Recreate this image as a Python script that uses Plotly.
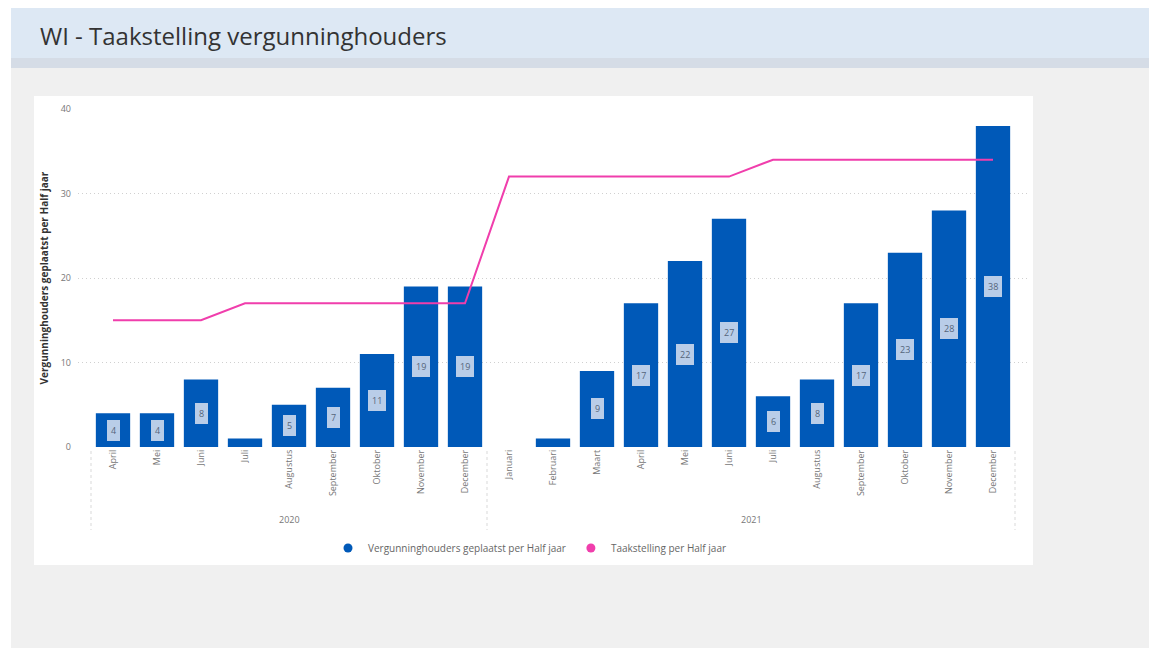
import plotly.graph_objects as go

# ---- data ----
years = ["2020"] * 9 + ["2021"] * 12
months = ["April", "Mei", "Juni", "Juli", "Augustus", "September", "Oktober", "November", "December",
          "Januari", "Februari", "Maart", "April", "Mei", "Juni", "Juli", "Augustus", "September",
          "Oktober", "November", "December"]
geplaatst = [4, 4, 8, 1, 5, 7, 11, 19, 19,
             None, 1, 9, 17, 22, 27, 6, 8, 17, 23, 28, 38]
taakstelling = [15, 15, 15, 17, 17, 17, 17, 17, 17,
                32, 32, 32, 32, 32, 32, 34, 34, 34, 34, 34, 34]
y_ticks = [0, 10, 20, 30, 40]

title_text = "WI - Taakstelling vergunninghouders"
bar_name = "Vergunninghouders geplaatst per Half jaar"
line_name = "Taakstelling per Half jaar"
y_title = "Vergunninghouders geplaatst per Half jaar"

BLUE = "#0059b8"
PINK = "#f03eac"
FONT = "Open Sans, Segoe UI, sans-serif"

keys = [f"{m} {y}" for m, y in zip(months, years)]

# ---- layout geometry (page pixels; page body has an 8px margin) ----
OFF = 8
W, H = 1157 - OFF, 652 - OFF
PL, PR, PT, PB = 78, 1028, 109, 447  # plot area in page pixels


def px(x):
    return (x - PL) / (PR - PL)


def py(y):
    return (PB - y) / (PB - PT)


fig = go.Figure()

fig.add_trace(go.Bar(
    x=keys, y=geplaatst, name=bar_name, marker_color=BLUE,
    marker_line_width=0, showlegend=False,
))
fig.add_trace(go.Scatter(
    x=keys, y=taakstelling, name=line_name, mode="lines",
    line=dict(color=PINK, width=2), showlegend=False,
))
# legend entries with circle markers
fig.add_trace(go.Scatter(x=[None], y=[None], mode="markers", name=bar_name,
                         marker=dict(color=BLUE, size=9, symbol="circle")))
fig.add_trace(go.Scatter(x=[None], y=[None], mode="markers", name=line_name,
                         marker=dict(color=PINK, size=9, symbol="circle")))

annotations = []
# data labels
for k, v in zip(keys, geplaatst):
    if v is not None and v >= 3:
        annotations.append(dict(
            x=k, y=v / 2, xref="x", yref="y", text=str(v), showarrow=False,
            font=dict(family=FONT, size=9, color="#55657a"),
            bgcolor="#b9cde8", borderpad=3, bordercolor="#b9cde8", borderwidth=1,
        ))

# year group labels and dividers
groups = []
for i, y in enumerate(years):
    if not groups or groups[-1][0] != y:
        groups.append([y, i, i])
    else:
        groups[-1][2] = i

shapes = []
# page backgrounds
shapes.append(dict(type="rect", xref="paper", yref="paper", x0=px(11), x1=px(1160), y0=py(6), y1=py(648),
                   fillcolor="#f0f0f0", line_width=0, layer="below"))
shapes.append(dict(type="rect", xref="paper", yref="paper", x0=px(11), x1=px(1160), y0=py(6), y1=py(58),
                   fillcolor="#dde8f4", line_width=0, layer="below"))
shapes.append(dict(type="rect", xref="paper", yref="paper", x0=px(11), x1=px(1160), y0=py(58), y1=py(68),
                   fillcolor="#d5dce6", line_width=0, layer="below"))
shapes.append(dict(type="rect", xref="paper", yref="paper", x0=px(34), x1=px(1033), y0=py(96), y1=py(565),
                   fillcolor="white", line_width=0, layer="below"))

div_positions = set()
for y, a, b in groups:
    annotations.append(dict(
        x=(a + b) / 2, y=py(520), xref="x", yref="paper", text=y, showarrow=False,
        font=dict(family=FONT, size=9, color="#777777"), yanchor="middle",
    ))
    div_positions.add(a - 0.5)
    div_positions.add(b + 0.5)
for d in sorted(div_positions):
    shapes.append(dict(type="line", xref="x", yref="paper", x0=d, x1=d, y0=py(451), y1=py(530),
                       line=dict(color="#d9d9d9", width=1, dash="dot")))

# title
annotations.append(dict(
    x=px(38), y=py(36), xref="paper", yref="paper", text=title_text, showarrow=False,
    xanchor="left", yanchor="middle", font=dict(family=FONT, size=24, color="#333333"),
))

fig.update_layout(
    width=W, height=H,
    margin=dict(l=PL - OFF, r=W - (PR - OFF), t=PT - OFF, b=H - (PB - OFF), autoexpand=False),
    paper_bgcolor="white", plot_bgcolor="rgba(0,0,0,0)",
    font=dict(family=FONT),
    bargap=0.22,
    showlegend=True,
    legend=dict(orientation="h", x=px(530), xanchor="center", y=py(548), yanchor="middle",
                font=dict(family=FONT, size=10, color="#666666"), itemwidth=30,
                tracegroupgap=0, bgcolor="rgba(0,0,0,0)"),
    xaxis=dict(
        type="category", tickmode="array", tickvals=keys, ticktext=months,
        tickangle=-90, tickfont=dict(family=FONT, size=9, color="#777777"),
        range=[-0.5 - 13 / 44, len(keys) - 0.5 + 13 / 44],
        showgrid=False, zeroline=False, showline=False, ticks="",
        fixedrange=True,
    ),
    yaxis=dict(
        range=[0, 40], tickvals=y_ticks, showgrid=True, gridcolor="#d0d0d0", griddash="1px,3px",
        gridwidth=1, zeroline=False, showline=False, ticks="", ticklabelstandoff=6,
        tickfont=dict(family=FONT, size=9, color="#777777"),
        title=dict(text=f"<b>{y_title}</b>", font=dict(family=FONT, size=10, color="#333333"), standoff=10),
    ),
    annotations=annotations,
    shapes=shapes,
)

fig.write_html("out.html")
